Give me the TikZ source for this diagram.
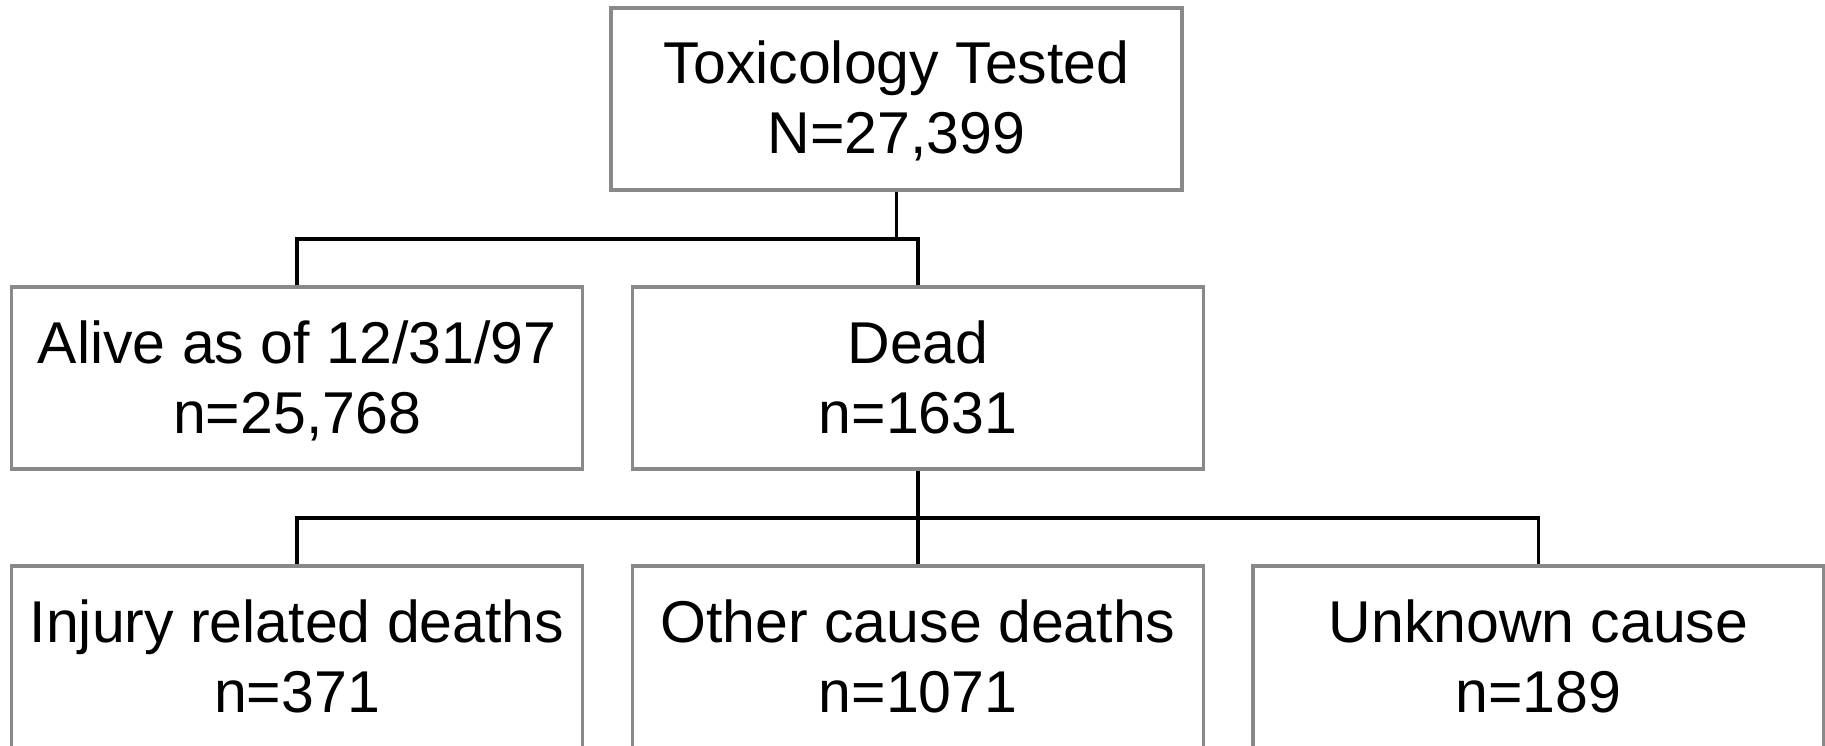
\documentclass[tikz,border=0pt]{standalone}
\usepackage{fontspec}
\setmainfont{Liberation Sans}
\definecolor{boxgray}{HTML}{898989}
\newcommand\ls{\rule[-10pt]{0pt}{60pt}}
\begin{document}
\begin{tikzpicture}[x=1pt,y=-1pt,
  box/.style={draw=boxgray, line width=3.2pt, minimum width=571pt, minimum height=182pt,
    inner sep=0pt, align=center, font=\fontsize{59}{70}\selectfont},
  conn/.style={draw=black, line width=3.3pt}]
\useasboundingbox (0,0) rectangle (1825,746);
\node[box] (top) at (896.5,99) {\ls Toxicology Tested\\\ls N=27,399};
\node[box] (alive) at (297,378) {\ls Alive as of 12/31/97\\\ls n=25,768};
\node[box] (dead) at (918,378) {\ls Dead\\\ls n=1631};
\node[box] (inj) at (297,657) {\ls Injury related deaths\\\ls n=371};
\node[box] (oth) at (918,657) {\ls Other cause deaths\\\ls n=1071};
\node[box] (unk) at (1538.5,657) {\ls Unknown cause\\\ls n=189};
\coordinate (b1) at (0,239);
\coordinate (b2) at (0,518);
\draw[conn] (top.south) -- (top.south |- b1);
\draw[conn] (alive.north) -- (alive.north |- b1) -| (dead.north);
\draw[conn] (dead.south) -- (oth.north);
\draw[conn] (inj.north) -- (inj.north |- b2) -| (unk.north);
\end{tikzpicture}
\end{document}
